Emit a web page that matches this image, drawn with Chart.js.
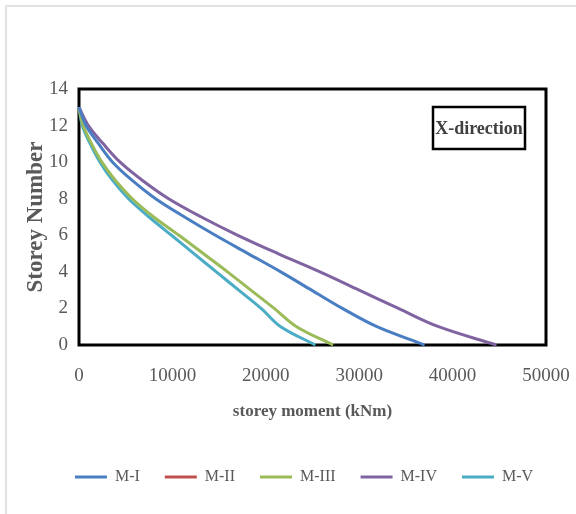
<!DOCTYPE html>
<html>
<head>
<meta charset="utf-8">
<script src="https://cdn.jsdelivr.net/npm/chart.js@4/dist/chart.umd.min.js"></script>
<style>
  html, body { margin: 0; padding: 0; background: #fff; overflow: hidden; }
  #frame { position: absolute; left: 5px; top: 5px; width: 640px; height: 600px;
           border-top: 2px solid #e2e2e2; border-left: 2px solid #e2e2e2; }
  #chart { position: absolute; left: 0; top: 0; }
</style>
</head>
<body>
<div id="frame"></div>
<canvas id="chart" width="576" height="514"></canvas>
<script>
// storey levels, top to bottom
const storeys = [13, 12, 11, 10, 9, 8, 7, 6, 5, 4, 3, 2, 1, 0];

// storey moment (kNm) for each model, same order as storeys
const mI   = [0, 750, 2100, 3600, 5700, 8200, 11300, 14600, 18100, 21600, 24900, 28200, 31900, 37000];
const mII  = []; // hidden in the source figure
const mIII = [0, 450, 1350, 2450, 3900, 5700, 8000, 10700, 13300, 15900, 18400, 20900, 23300, 27200];
const mIV  = [0, 1000, 2600, 4400, 6800, 9600, 13100, 17000, 21300, 25800, 30000, 34200, 38500, 44700];
const mV   = [0, 350, 1200, 2250, 3600, 5300, 7500, 9900, 12300, 14700, 17100, 19500, 21600, 25300];

const seriesNames = ['M-I', 'M-II', 'M-III', 'M-IV', 'M-V'];
const seriesData = [mI, mII, mIII, mIV, mV];
const seriesColors = ['#4a7ec2', '#c0504d', '#9bbb59', '#8064a2', '#4bacc6'];

const xTicks = [0, 10000, 20000, 30000, 40000, 50000];
const yTicks = [0, 2, 4, 6, 8, 10, 12, 14];

const serif = "'Liberation Serif', 'Times New Roman', serif";
const grey = '#595959';

const toPoints = (vals) => vals.map((m, i) => ({ x: m, y: storeys[i] }));

// box round the plot area + "X-direction" tag
const plotFrame = {
    id: 'plotFrame',
    beforeDatasetsDraw(chart) {
        const { ctx, chartArea: a } = chart;
        ctx.save();
        ctx.strokeStyle = '#000';
        ctx.lineWidth = 3;
        ctx.strokeRect(a.left, a.top, a.right - a.left, a.bottom - a.top);
        ctx.restore();
    },
    afterDatasetsDraw(chart) {
        const { ctx, chartArea: a } = chart;
        const w = 92, h = 42;
        const x = a.right - 113, y = a.top + 18;
        ctx.save();
        ctx.fillStyle = '#fff';
        ctx.fillRect(x, y, w, h);
        ctx.strokeStyle = '#000';
        ctx.lineWidth = 2.5;
        ctx.strokeRect(x, y, w, h);
        ctx.fillStyle = '#404040';
        ctx.font = 'bold 18px ' + serif;
        ctx.textAlign = 'center';
        ctx.textBaseline = 'middle';
        ctx.fillText('X-direction', x + w / 2, y + h / 2 + 1);
        ctx.restore();
    }
};

// fixed legend height and a wider legend band so it sits like the source
const legendFix = {
    id: 'legendFix',
    beforeInit(chart) {
        const fit = chart.legend.fit;
        chart.legend.fit = function () {
            fit.call(this);
            this.height = 70;
        };
    },
    afterLayout(chart) {
        chart.legend.left = 32;
        chart.legend.right = 576;
    }
};

new Chart(document.getElementById('chart'), {
    type: 'line',
    data: {
        datasets: seriesNames.map((name, i) => ({
            label: name,
            data: toPoints(seriesData[i]),
            borderColor: seriesColors[i],
            backgroundColor: seriesColors[i],
            borderWidth: 3,
            pointRadius: 0,
            pointStyle: 'line',
            tension: 0.35,
            clip: 6
        }))
    },
    options: {
        responsive: false,
        devicePixelRatio: 1,
        animation: false,
        layout: { padding: { top: 89, right: 30, left: 0, bottom: 0 } },
        plugins: {
            legend: {
                position: 'bottom',
                labels: {
                    usePointStyle: true,
                    pointStyle: 'line',
                    pointStyleWidth: 32,
                    padding: 25,
                    color: grey,
                    font: { family: serif, size: 16 }
                }
            },
            tooltip: { enabled: false }
        },
        scales: {
            x: {
                type: 'linear',
                min: 0,
                max: 50000,
                afterBuildTicks(scale) { scale.ticks = xTicks.map(v => ({ value: v })); },
                afterFit(scale) {
                    scale.height = 99;
                    // tick padding is vertical here; keep it out of the side margins
                    scale.paddingLeft = 0;
                    scale.paddingRight = 25;
                },
                grid: { display: false, drawTicks: false },
                border: { display: false },
                ticks: {
                    padding: 20,
                    color: grey,
                    font: { family: serif, size: 19 },
                    callback: (v) => String(v)
                },
                title: {
                    display: true,
                    text: 'storey moment (kNm)',
                    color: grey,
                    font: { family: serif, size: 17, weight: 'bold' },
                    padding: { top: 0, bottom: 22 }
                }
            },
            y: {
                type: 'linear',
                min: 0,
                max: 14,
                afterBuildTicks(scale) { scale.ticks = yTicks.map(v => ({ value: v })); },
                afterFit(scale) {
                    scale.width = 79;
                    scale.paddingTop = 0;
                    scale.paddingBottom = 0;
                },
                grid: { display: false, drawTicks: false },
                border: { display: false },
                ticks: {
                    padding: 11,
                    color: grey,
                    font: { family: serif, size: 19 }
                },
                title: {
                    display: true,
                    text: 'Storey Number',
                    color: grey,
                    font: { family: serif, size: 23, weight: 'bold' },
                    padding: { top: 22, bottom: 0 }
                }
            }
        }
    },
    plugins: [plotFrame, legendFix]
});
</script>
</body>
</html>
